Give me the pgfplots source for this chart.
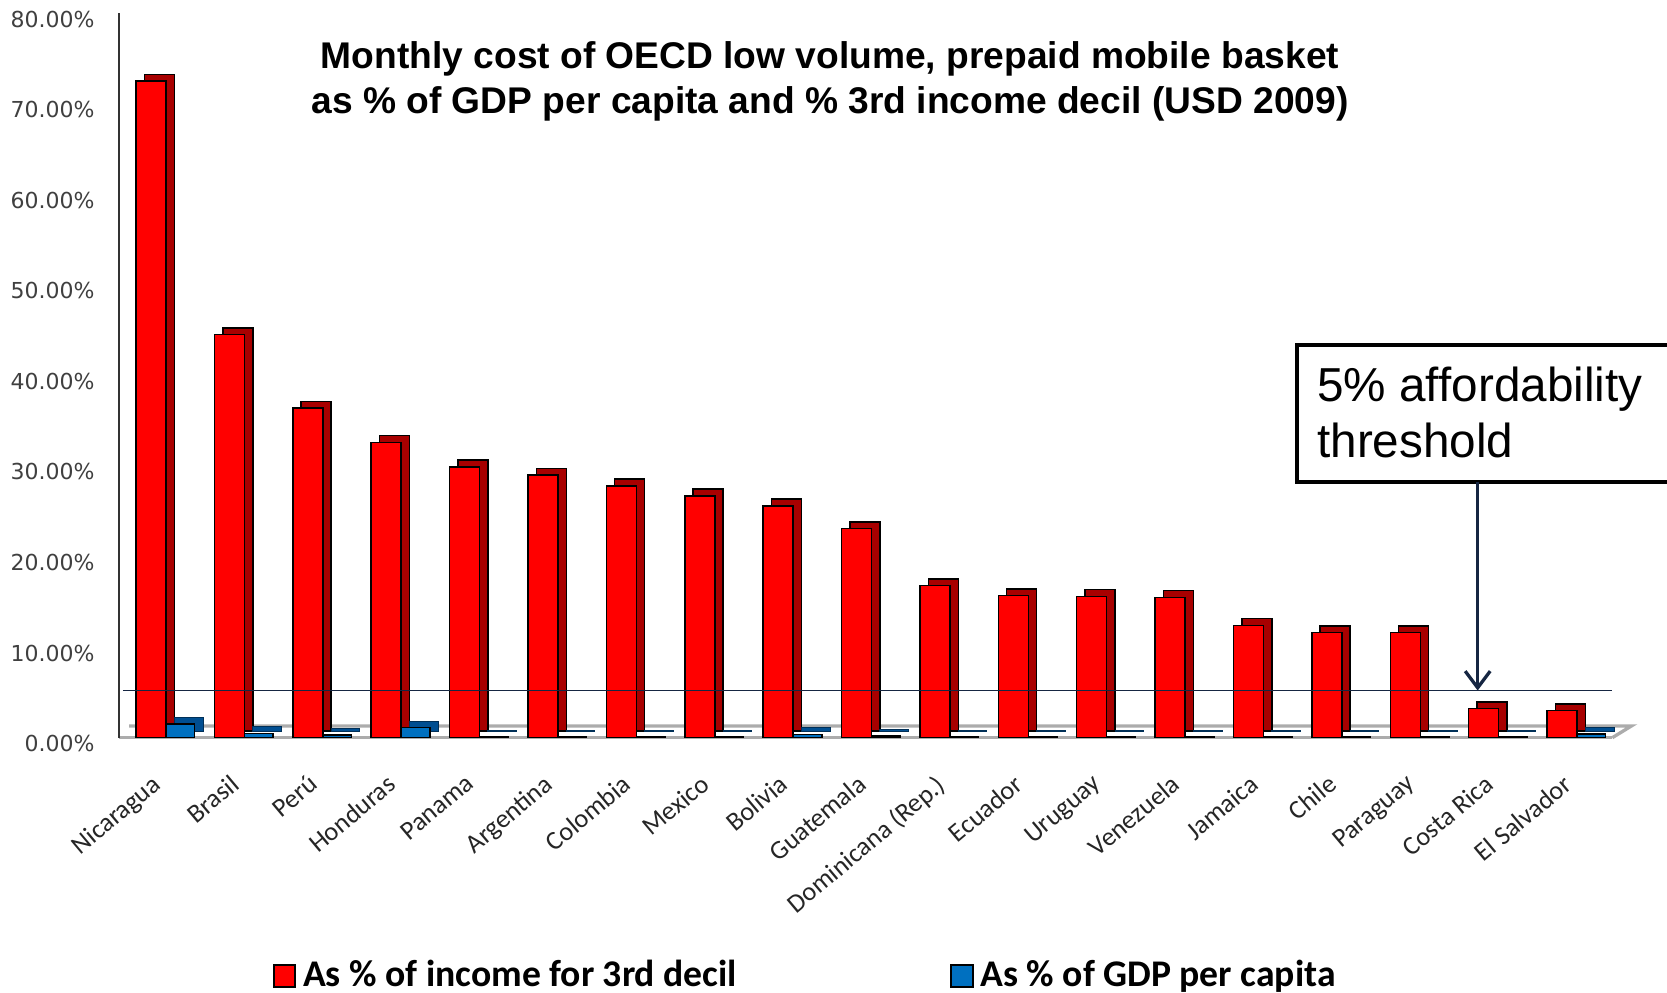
\documentclass[border=0pt]{standalone}
\usepackage{fontspec}
\setmainfont{Liberation Sans}
\newfontfamily\carlito{Carlito}
\newfontfamily\dejavu{DejaVu Sans}
\usepackage{pgfplots}
\usepackage{pgfplotstable}
\pgfplotsset{compat=1.18}
\usetikzlibrary{arrows.meta}
\definecolor{barred}{RGB}{255,0,0}
\definecolor{barreddark}{RGB}{168,0,0}
\definecolor{barblue}{RGB}{0,112,192}
\definecolor{barbluedark}{RGB}{0,78,145}
\definecolor{navy}{RGB}{22,38,66}

\pgfplotstableread{
x red blue
0 72.5 1.5
1 44.5 0.45
2 36.4 0.3
3 32.6 1.1
4 29.9 0.1
5 29.0 0.1
6 27.8 0.1
7 26.7 0.1
8 25.6 0.35
9 23.1 0.2
10 16.8 0.1
11 15.7 0.1
12 15.6 0.1
13 15.5 0.1
14 12.4 0.05
15 11.6 0.1
16 11.6 0.1
17 3.2 0.1
18 3.0 0.4
}\data

\begin{document}
\begin{tikzpicture}
\begin{axis}[
  at={(35.7pt,76.3pt)}, anchor=south west,
  scale only axis, width=448pt, height=217.4pt,
  xmin=-0.6, xmax=18.45, ymin=0, ymax=80,
  separate axis lines,
  axis x line*=bottom, axis y line*=left,
  x axis line style={-, draw=gray!65, line width=1pt},
  y axis line style={-, draw=black!80, line width=0.6pt},
  major tick length=0,
  xtick={0,...,18},
  xticklabels={Nicaragua,Brasil,Perú,Honduras,Panama,Argentina,Colombia,Mexico,Bolivia,Guatemala,Dominicana (Rep.),Ecuador,Uruguay,Venezuela,Jamaica,Chile,Paraguay,Costa Rica,El Salvador},
  xticklabel style={font=\carlito\fontsize{7.9}{9}\selectfont, text=black!85, xshift=-4.5pt, yshift=-9pt, rotate=40, anchor=north east, inner sep=1pt},
  ytick={0,10,...,80},
  yticklabels={0.00\%,10.00\%,20.00\%,30.00\%,40.00\%,50.00\%,60.00\%,70.00\%,80.00\%},
  yticklabel style={font=\dejavu\fontsize{6.6}{7.5}\selectfont, text=black!75, xshift=-3.8pt, yshift=-1.8pt},
  clip=false,
  legend columns=2,
  legend style={at={(0.096,-0.329)}, anchor=west, draw=none, fill=none,
    font=\carlito\bfseries\fontsize{11.3}{13}\selectfont,
    /tikz/every even column/.append style={column sep=62pt}},
]
\draw[gray!65, line width=1pt] (axis cs:18.45,0) -- ++(5.7pt,3.5pt) -- ([xshift=3pt,yshift=3.5pt]axis cs:-0.6,0);
\addplot[ybar, bar width=9pt, bar shift=-4.5pt, xshift=2.5pt, yshift=2pt, fill=barreddark, draw=black, line width=0.45pt, forget plot] table[x=x,y=red]{\data};
\addplot[ybar, bar width=9pt, bar shift=-4.5pt, fill=barred, draw=black, line width=0.45pt,
  legend image code/.code={\draw[fill=barred,draw=black,line width=0.6pt] (0pt,-3.2pt) rectangle (6.4pt,3.2pt);}] table[x=x,y=red]{\data};
\addlegendentry{As \% of income for 3rd decil}
\addplot[ybar, bar width=8.6pt, bar shift=4.3pt, xshift=2.5pt, yshift=2pt, fill=barbluedark, draw=barbluedark!60!black, line width=0.3pt, forget plot] table[x=x,y=blue]{\data};
\addplot[ybar, bar width=8.6pt, bar shift=4.3pt, fill=barblue, draw=black, line width=0.45pt,
  legend image code/.code={\draw[fill=barblue,draw=black,line width=0.6pt] (0pt,-3.2pt) rectangle (6.4pt,3.2pt);}] table[x=x,y=blue]{\data};
\addlegendentry{As \% of GDP per capita}
\addplot[navy, line width=0.5pt, forget plot] coordinates {(-0.55,5.2) (18.45,5.2)};
\coordinate (tip) at (axis cs:16.8,5.2);
\end{axis}
\node[anchor=base, font=\bfseries\fontsize{11.15}{13}\selectfont] at (249pt,276.9pt) {Monthly cost of OECD low volume, prepaid mobile basket};
\node[anchor=base, font=\bfseries\fontsize{11.15}{13}\selectfont] at (249pt,263.4pt) {as \% of GDP per capita and \% 3rd income decil (USD 2009)};
\draw[black, line width=1.3pt, fill=white] (389pt,153.1pt) rectangle (520pt,194pt);
\node[anchor=base west, inner sep=0pt, font=\fontsize{14.3}{17}\selectfont] at (395pt,177.1pt) {5\% affordability};
\node[anchor=base west, inner sep=0pt, font=\fontsize{14.3}{17}\selectfont] at (395pt,160.2pt) {threshold};
\draw[navy, line width=1pt, -{Straight Barb[length=5pt,width=7.5pt,line width=1pt]}] (443.3pt,153.1pt) -- (443.3pt,153.1pt |- tip);
\pgfresetboundingbox
\path[use as bounding box] (0,0) rectangle (500.1pt,297.6pt);
\end{tikzpicture}
\end{document}
